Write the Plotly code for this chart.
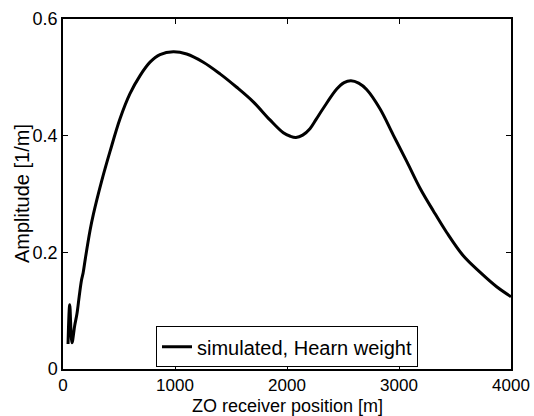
import plotly.graph_objects as go

# data
position_m = [45, 60, 80, 105, 125, 145, 165, 180, 200, 241, 271, 345, 420, 509,
              598, 688, 777, 866, 985, 1104, 1253, 1402, 1551, 1699, 1848, 1967,
              2030, 2080, 2140, 2205, 2260, 2324, 2444, 2510, 2571, 2640, 2711, 2830,
              2949, 3069, 3188, 3307, 3426, 3574, 3723, 3872, 4000]
amplitude = [0.043, 0.110, 0.045, 0.075, 0.095, 0.125, 0.152, 0.165, 0.190, 0.237,
             0.265, 0.322, 0.373, 0.429, 0.472, 0.503, 0.526, 0.539, 0.544, 0.540,
             0.526, 0.506, 0.483, 0.458, 0.427, 0.405, 0.399, 0.397, 0.401, 0.412,
             0.428, 0.447, 0.480, 0.491, 0.494, 0.490, 0.479, 0.446, 0.401, 0.356,
             0.310, 0.271, 0.234, 0.194, 0.166, 0.141, 0.124]
x_ticks = [0, 1000, 2000, 3000, 4000]
y_ticks = [0, 0.2, 0.4, 0.6]
y_tick_labels = ["0", "0.2", "0.4", "0.6"]
x_title = "ZO receiver position [m]"
y_title = "Amplitude [1/m]"
series_name = "simulated, Hearn weight"

FONT = "Liberation Sans, Arial, sans-serif"

fig = go.Figure()
fig.add_trace(go.Scatter(
    x=position_m, y=amplitude, mode="lines",
    name=series_name,
    line=dict(color="black", width=3, shape="spline", smoothing=1.0),
))

axis_common = dict(
    showgrid=False, zeroline=False, showline=True, linecolor="black", linewidth=1.5,
    mirror="ticks", ticks="inside", ticklen=5, tickwidth=1, tickcolor="black",
    tickfont=dict(family=FONT, size=18, color="black"), automargin=False,
)

fig.update_layout(
    width=534, height=416,
    margin=dict(l=63, r=23, t=19, b=47, autoexpand=False),
    paper_bgcolor="white", plot_bgcolor="white",
    font=dict(family=FONT, size=18, color="black"),
    showlegend=True,
    legend=dict(
        x=0.5, xanchor="center", y=0.005, yanchor="bottom",
        bgcolor="white", bordercolor="black", borderwidth=1,
        font=dict(family=FONT, size=20, color="black"),
        itemwidth=30, tracegroupgap=0,
    ),
    xaxis=dict(range=[0, 4000], tickvals=x_ticks, ticktext=[str(v) for v in x_ticks],
               tickfont=dict(family=FONT, size=17, color="black"),
               **{k: v for k, v in axis_common.items() if k != "tickfont"}),
    yaxis=dict(range=[0, 0.6], tickvals=y_ticks, ticktext=y_tick_labels,
               **axis_common),
    annotations=[
        dict(text=x_title, xref="paper", yref="paper", x=0.5, y=0, yshift=-37,
             xanchor="center", yanchor="middle", showarrow=False,
             font=dict(family=FONT, size=18, color="black")),
        dict(text=y_title, xref="paper", yref="paper", x=0, y=0.5, xshift=-41,
             xanchor="center", yanchor="middle", textangle=-90, showarrow=False,
             font=dict(family=FONT, size=20, color="black")),
    ],
)

fig.write_html("out.html")
